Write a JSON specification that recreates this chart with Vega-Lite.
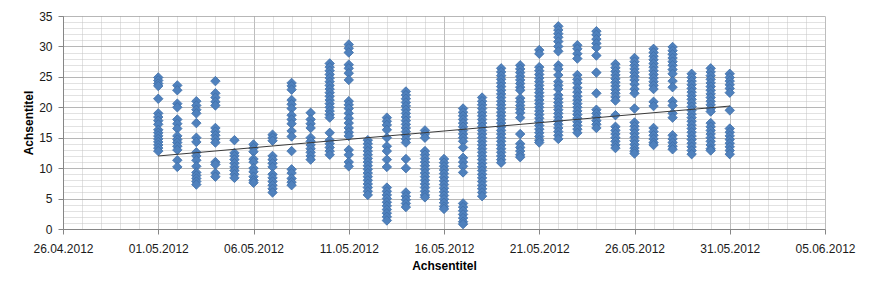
{
"$schema": "https://vega.github.io/schema/vega-lite/v6.json",
"width": 762, "height": 213,
"autosize": {"type": "none"},
"padding": {"left": 63, "top": 16, "right": 46, "bottom": 62},
"background": "#ffffff",
"config": {"view": {"stroke": null}, "font": "Liberation Sans"},
"datasets": {"trend": [{"date": "2012-05-01", "value": 12.0}, {"date": "2012-05-31", "value": 20.2}]},
"data": {"values": [
{"date":"2012-05-01","value":24.9},{"date":"2012-05-01","value":24.4},{"date":"2012-05-01","value":23.9},{"date":"2012-05-01","value":23.5},{"date":"2012-05-01","value":21.4},{"date":"2012-05-01","value":19.0},{"date":"2012-05-01","value":18.4},{"date":"2012-05-01","value":17.8},{"date":"2012-05-01","value":17.2},{"date":"2012-05-01","value":16.3},{"date":"2012-05-01","value":15.8},{"date":"2012-05-01","value":15.3},{"date":"2012-05-01","value":14.8},{"date":"2012-05-01","value":14.3},{"date":"2012-05-01","value":13.8},{"date":"2012-05-01","value":13.3},{"date":"2012-05-01","value":12.8},
{"date":"2012-05-02","value":23.6},{"date":"2012-05-02","value":22.8},{"date":"2012-05-02","value":20.6},{"date":"2012-05-02","value":20.0},{"date":"2012-05-02","value":18.0},{"date":"2012-05-02","value":17.3},{"date":"2012-05-02","value":16.5},{"date":"2012-05-02","value":15.3},{"date":"2012-05-02","value":14.7},{"date":"2012-05-02","value":14.2},{"date":"2012-05-02","value":13.6},{"date":"2012-05-02","value":13.0},{"date":"2012-05-02","value":11.3},{"date":"2012-05-02","value":10.2},
{"date":"2012-05-03","value":21.0},{"date":"2012-05-03","value":20.3},{"date":"2012-05-03","value":19.6},{"date":"2012-05-03","value":19.0},{"date":"2012-05-03","value":17.4},{"date":"2012-05-03","value":15.0},{"date":"2012-05-03","value":14.3},{"date":"2012-05-03","value":12.6},{"date":"2012-05-03","value":12.0},{"date":"2012-05-03","value":11.3},{"date":"2012-05-03","value":10.3},{"date":"2012-05-03","value":9.3},{"date":"2012-05-03","value":8.8},{"date":"2012-05-03","value":8.3},{"date":"2012-05-03","value":7.8},{"date":"2012-05-03","value":7.3},
{"date":"2012-05-04","value":24.3},{"date":"2012-05-04","value":22.3},{"date":"2012-05-04","value":21.6},{"date":"2012-05-04","value":20.9},{"date":"2012-05-04","value":20.3},{"date":"2012-05-04","value":16.6},{"date":"2012-05-04","value":16.0},{"date":"2012-05-04","value":15.4},{"date":"2012-05-04","value":14.8},{"date":"2012-05-04","value":14.2},{"date":"2012-05-04","value":11.0},{"date":"2012-05-04","value":10.6},{"date":"2012-05-04","value":9.2},{"date":"2012-05-04","value":8.6},
{"date":"2012-05-05","value":14.6},{"date":"2012-05-05","value":12.5},{"date":"2012-05-05","value":12.0},{"date":"2012-05-05","value":11.4},{"date":"2012-05-05","value":10.8},{"date":"2012-05-05","value":10.2},{"date":"2012-05-05","value":9.6},{"date":"2012-05-05","value":9.0},{"date":"2012-05-05","value":8.4},
{"date":"2012-05-06","value":13.9},{"date":"2012-05-06","value":13.3},{"date":"2012-05-06","value":12.7},{"date":"2012-05-06","value":11.5},{"date":"2012-05-06","value":11.0},{"date":"2012-05-06","value":10.0},{"date":"2012-05-06","value":9.4},{"date":"2012-05-06","value":8.6},{"date":"2012-05-06","value":8.0},{"date":"2012-05-06","value":7.6},
{"date":"2012-05-07","value":15.5},{"date":"2012-05-07","value":15.0},{"date":"2012-05-07","value":14.5},{"date":"2012-05-07","value":12.0},{"date":"2012-05-07","value":11.4},{"date":"2012-05-07","value":10.8},{"date":"2012-05-07","value":10.2},{"date":"2012-05-07","value":9.0},{"date":"2012-05-07","value":8.4},{"date":"2012-05-07","value":7.8},{"date":"2012-05-07","value":7.2},{"date":"2012-05-07","value":6.6},{"date":"2012-05-07","value":6.0},
{"date":"2012-05-08","value":24.0},{"date":"2012-05-08","value":23.5},{"date":"2012-05-08","value":22.9},{"date":"2012-05-08","value":21.2},{"date":"2012-05-08","value":20.5},{"date":"2012-05-08","value":19.8},{"date":"2012-05-08","value":18.7},{"date":"2012-05-08","value":18.0},{"date":"2012-05-08","value":17.3},{"date":"2012-05-08","value":16.1},{"date":"2012-05-08","value":15.2},{"date":"2012-05-08","value":12.8},{"date":"2012-05-08","value":9.8},{"date":"2012-05-08","value":9.2},{"date":"2012-05-08","value":8.3},{"date":"2012-05-08","value":7.7},{"date":"2012-05-08","value":7.2},
{"date":"2012-05-09","value":19.1},{"date":"2012-05-09","value":18.0},{"date":"2012-05-09","value":17.3},{"date":"2012-05-09","value":16.6},{"date":"2012-05-09","value":15.0},{"date":"2012-05-09","value":14.4},{"date":"2012-05-09","value":13.8},{"date":"2012-05-09","value":13.2},{"date":"2012-05-09","value":12.6},{"date":"2012-05-09","value":12.0},{"date":"2012-05-09","value":11.4},
{"date":"2012-05-10","value":27.2},{"date":"2012-05-10","value":26.6},{"date":"2012-05-10","value":26.0},{"date":"2012-05-10","value":25.4},{"date":"2012-05-10","value":24.8},{"date":"2012-05-10","value":24.2},{"date":"2012-05-10","value":23.6},{"date":"2012-05-10","value":23.0},{"date":"2012-05-10","value":22.4},{"date":"2012-05-10","value":21.8},{"date":"2012-05-10","value":21.2},{"date":"2012-05-10","value":20.6},{"date":"2012-05-10","value":20.0},{"date":"2012-05-10","value":19.4},{"date":"2012-05-10","value":18.8},{"date":"2012-05-10","value":18.3},{"date":"2012-05-10","value":15.8},{"date":"2012-05-10","value":14.6},{"date":"2012-05-10","value":14.0},{"date":"2012-05-10","value":13.4},{"date":"2012-05-10","value":12.8},{"date":"2012-05-10","value":12.2},
{"date":"2012-05-11","value":30.3},{"date":"2012-05-11","value":29.7},{"date":"2012-05-11","value":29.0},{"date":"2012-05-11","value":27.0},{"date":"2012-05-11","value":26.4},{"date":"2012-05-11","value":25.6},{"date":"2012-05-11","value":24.5},{"date":"2012-05-11","value":21.0},{"date":"2012-05-11","value":20.4},{"date":"2012-05-11","value":19.8},{"date":"2012-05-11","value":19.0},{"date":"2012-05-11","value":18.2},{"date":"2012-05-11","value":17.4},{"date":"2012-05-11","value":16.6},{"date":"2012-05-11","value":15.9},{"date":"2012-05-11","value":15.3},{"date":"2012-05-11","value":13.0},{"date":"2012-05-11","value":12.2},{"date":"2012-05-11","value":11.0},{"date":"2012-05-11","value":10.3},
{"date":"2012-05-12","value":14.6},{"date":"2012-05-12","value":14.0},{"date":"2012-05-12","value":13.4},{"date":"2012-05-12","value":12.8},{"date":"2012-05-12","value":12.2},{"date":"2012-05-12","value":11.6},{"date":"2012-05-12","value":11.0},{"date":"2012-05-12","value":10.4},{"date":"2012-05-12","value":9.8},{"date":"2012-05-12","value":9.2},{"date":"2012-05-12","value":8.6},{"date":"2012-05-12","value":8.0},{"date":"2012-05-12","value":7.4},{"date":"2012-05-12","value":6.8},{"date":"2012-05-12","value":6.2},{"date":"2012-05-12","value":5.6},
{"date":"2012-05-13","value":18.3},{"date":"2012-05-13","value":17.7},{"date":"2012-05-13","value":17.1},{"date":"2012-05-13","value":16.3},{"date":"2012-05-13","value":15.0},{"date":"2012-05-13","value":13.6},{"date":"2012-05-13","value":12.8},{"date":"2012-05-13","value":11.4},{"date":"2012-05-13","value":10.2},{"date":"2012-05-13","value":6.8},{"date":"2012-05-13","value":6.2},{"date":"2012-05-13","value":5.6},{"date":"2012-05-13","value":5.0},{"date":"2012-05-13","value":4.4},{"date":"2012-05-13","value":3.8},{"date":"2012-05-13","value":3.2},{"date":"2012-05-13","value":2.6},{"date":"2012-05-13","value":2.0},{"date":"2012-05-13","value":1.4},
{"date":"2012-05-14","value":22.6},{"date":"2012-05-14","value":22.0},{"date":"2012-05-14","value":21.4},{"date":"2012-05-14","value":20.8},{"date":"2012-05-14","value":20.2},{"date":"2012-05-14","value":19.6},{"date":"2012-05-14","value":19.0},{"date":"2012-05-14","value":18.4},{"date":"2012-05-14","value":17.8},{"date":"2012-05-14","value":17.2},{"date":"2012-05-14","value":16.6},{"date":"2012-05-14","value":16.0},{"date":"2012-05-14","value":15.4},{"date":"2012-05-14","value":14.8},{"date":"2012-05-14","value":14.2},{"date":"2012-05-14","value":11.5},{"date":"2012-05-14","value":10.0},{"date":"2012-05-14","value":6.0},{"date":"2012-05-14","value":5.4},{"date":"2012-05-14","value":4.8},{"date":"2012-05-14","value":4.2},{"date":"2012-05-14","value":3.6},
{"date":"2012-05-15","value":16.2},{"date":"2012-05-15","value":15.6},{"date":"2012-05-15","value":15.0},{"date":"2012-05-15","value":12.8},{"date":"2012-05-15","value":12.2},{"date":"2012-05-15","value":11.6},{"date":"2012-05-15","value":11.0},{"date":"2012-05-15","value":10.4},{"date":"2012-05-15","value":9.8},{"date":"2012-05-15","value":9.2},{"date":"2012-05-15","value":8.6},{"date":"2012-05-15","value":8.0},{"date":"2012-05-15","value":7.4},{"date":"2012-05-15","value":6.8},{"date":"2012-05-15","value":6.2},{"date":"2012-05-15","value":5.6},{"date":"2012-05-15","value":5.2},
{"date":"2012-05-16","value":11.5},{"date":"2012-05-16","value":10.9},{"date":"2012-05-16","value":10.3},{"date":"2012-05-16","value":9.7},{"date":"2012-05-16","value":9.1},{"date":"2012-05-16","value":8.5},{"date":"2012-05-16","value":7.9},{"date":"2012-05-16","value":7.3},{"date":"2012-05-16","value":6.7},{"date":"2012-05-16","value":6.1},{"date":"2012-05-16","value":5.5},{"date":"2012-05-16","value":4.9},{"date":"2012-05-16","value":4.3},{"date":"2012-05-16","value":3.7},{"date":"2012-05-16","value":3.3},
{"date":"2012-05-17","value":19.8},{"date":"2012-05-17","value":19.2},{"date":"2012-05-17","value":18.6},{"date":"2012-05-17","value":18.0},{"date":"2012-05-17","value":17.4},{"date":"2012-05-17","value":16.8},{"date":"2012-05-17","value":16.2},{"date":"2012-05-17","value":15.6},{"date":"2012-05-17","value":15.0},{"date":"2012-05-17","value":14.4},{"date":"2012-05-17","value":13.4},{"date":"2012-05-17","value":11.7},{"date":"2012-05-17","value":11.0},{"date":"2012-05-17","value":10.3},{"date":"2012-05-17","value":9.3},{"date":"2012-05-17","value":4.2},{"date":"2012-05-17","value":3.6},{"date":"2012-05-17","value":3.0},{"date":"2012-05-17","value":2.4},{"date":"2012-05-17","value":1.8},{"date":"2012-05-17","value":1.2},{"date":"2012-05-17","value":0.8},
{"date":"2012-05-18","value":21.6},{"date":"2012-05-18","value":21.0},{"date":"2012-05-18","value":20.4},{"date":"2012-05-18","value":19.8},{"date":"2012-05-18","value":19.2},{"date":"2012-05-18","value":18.6},{"date":"2012-05-18","value":18.0},{"date":"2012-05-18","value":17.4},{"date":"2012-05-18","value":16.8},{"date":"2012-05-18","value":16.2},{"date":"2012-05-18","value":15.6},{"date":"2012-05-18","value":15.0},{"date":"2012-05-18","value":14.4},{"date":"2012-05-18","value":13.8},{"date":"2012-05-18","value":13.2},{"date":"2012-05-18","value":12.6},{"date":"2012-05-18","value":12.0},{"date":"2012-05-18","value":11.4},{"date":"2012-05-18","value":10.8},{"date":"2012-05-18","value":10.2},{"date":"2012-05-18","value":9.6},{"date":"2012-05-18","value":9.0},{"date":"2012-05-18","value":8.4},{"date":"2012-05-18","value":7.8},{"date":"2012-05-18","value":7.2},{"date":"2012-05-18","value":6.6},{"date":"2012-05-18","value":6.0},{"date":"2012-05-18","value":5.4},
{"date":"2012-05-19","value":26.4},{"date":"2012-05-19","value":25.8},{"date":"2012-05-19","value":25.2},{"date":"2012-05-19","value":24.6},{"date":"2012-05-19","value":24.0},{"date":"2012-05-19","value":23.4},{"date":"2012-05-19","value":22.8},{"date":"2012-05-19","value":22.2},{"date":"2012-05-19","value":21.6},{"date":"2012-05-19","value":21.0},{"date":"2012-05-19","value":20.4},{"date":"2012-05-19","value":19.8},{"date":"2012-05-19","value":19.2},{"date":"2012-05-19","value":18.6},{"date":"2012-05-19","value":18.0},{"date":"2012-05-19","value":17.4},{"date":"2012-05-19","value":16.8},{"date":"2012-05-19","value":16.2},{"date":"2012-05-19","value":15.6},{"date":"2012-05-19","value":15.0},{"date":"2012-05-19","value":14.4},{"date":"2012-05-19","value":13.8},{"date":"2012-05-19","value":13.2},{"date":"2012-05-19","value":12.6},{"date":"2012-05-19","value":12.0},{"date":"2012-05-19","value":11.4},{"date":"2012-05-19","value":10.9},
{"date":"2012-05-20","value":26.9},{"date":"2012-05-20","value":26.3},{"date":"2012-05-20","value":25.7},{"date":"2012-05-20","value":25.1},{"date":"2012-05-20","value":24.5},{"date":"2012-05-20","value":23.9},{"date":"2012-05-20","value":23.3},{"date":"2012-05-20","value":22.8},{"date":"2012-05-20","value":21.5},{"date":"2012-05-20","value":20.9},{"date":"2012-05-20","value":20.3},{"date":"2012-05-20","value":19.7},{"date":"2012-05-20","value":19.1},{"date":"2012-05-20","value":18.3},{"date":"2012-05-20","value":15.6},{"date":"2012-05-20","value":14.0},{"date":"2012-05-20","value":13.4},{"date":"2012-05-20","value":12.8},{"date":"2012-05-20","value":12.2},{"date":"2012-05-20","value":11.8},
{"date":"2012-05-21","value":29.4},{"date":"2012-05-21","value":28.8},{"date":"2012-05-21","value":26.6},{"date":"2012-05-21","value":26.0},{"date":"2012-05-21","value":25.4},{"date":"2012-05-21","value":24.8},{"date":"2012-05-21","value":24.2},{"date":"2012-05-21","value":23.6},{"date":"2012-05-21","value":23.0},{"date":"2012-05-21","value":22.4},{"date":"2012-05-21","value":21.8},{"date":"2012-05-21","value":21.2},{"date":"2012-05-21","value":20.6},{"date":"2012-05-21","value":20.0},{"date":"2012-05-21","value":19.4},{"date":"2012-05-21","value":18.8},{"date":"2012-05-21","value":18.2},{"date":"2012-05-21","value":17.6},{"date":"2012-05-21","value":17.0},{"date":"2012-05-21","value":16.4},{"date":"2012-05-21","value":15.8},{"date":"2012-05-21","value":15.2},{"date":"2012-05-21","value":14.6},{"date":"2012-05-21","value":14.2},
{"date":"2012-05-22","value":33.3},{"date":"2012-05-22","value":32.7},{"date":"2012-05-22","value":32.1},{"date":"2012-05-22","value":31.5},{"date":"2012-05-22","value":30.8},{"date":"2012-05-22","value":30.0},{"date":"2012-05-22","value":29.2},{"date":"2012-05-22","value":26.9},{"date":"2012-05-22","value":26.3},{"date":"2012-05-22","value":25.3},{"date":"2012-05-22","value":24.2},{"date":"2012-05-22","value":23.6},{"date":"2012-05-22","value":23.0},{"date":"2012-05-22","value":22.0},{"date":"2012-05-22","value":21.4},{"date":"2012-05-22","value":20.8},{"date":"2012-05-22","value":20.2},{"date":"2012-05-22","value":19.6},{"date":"2012-05-22","value":19.0},{"date":"2012-05-22","value":18.4},{"date":"2012-05-22","value":17.8},{"date":"2012-05-22","value":17.2},{"date":"2012-05-22","value":16.6},{"date":"2012-05-22","value":16.0},{"date":"2012-05-22","value":15.4},{"date":"2012-05-22","value":14.8},
{"date":"2012-05-23","value":30.2},{"date":"2012-05-23","value":29.6},{"date":"2012-05-23","value":28.8},{"date":"2012-05-23","value":28.0},{"date":"2012-05-23","value":25.3},{"date":"2012-05-23","value":24.6},{"date":"2012-05-23","value":24.0},{"date":"2012-05-23","value":23.2},{"date":"2012-05-23","value":22.5},{"date":"2012-05-23","value":21.8},{"date":"2012-05-23","value":21.2},{"date":"2012-05-23","value":20.6},{"date":"2012-05-23","value":20.0},{"date":"2012-05-23","value":19.4},{"date":"2012-05-23","value":18.8},{"date":"2012-05-23","value":18.2},{"date":"2012-05-23","value":17.6},{"date":"2012-05-23","value":17.0},{"date":"2012-05-23","value":16.4},{"date":"2012-05-23","value":15.8},
{"date":"2012-05-24","value":32.5},{"date":"2012-05-24","value":31.9},{"date":"2012-05-24","value":31.2},{"date":"2012-05-24","value":30.5},{"date":"2012-05-24","value":29.8},{"date":"2012-05-24","value":28.5},{"date":"2012-05-24","value":25.7},{"date":"2012-05-24","value":22.3},{"date":"2012-05-24","value":19.6},{"date":"2012-05-24","value":19.0},{"date":"2012-05-24","value":18.4},{"date":"2012-05-24","value":17.8},{"date":"2012-05-24","value":17.2},{"date":"2012-05-24","value":16.6},
{"date":"2012-05-25","value":27.1},{"date":"2012-05-25","value":26.5},{"date":"2012-05-25","value":25.9},{"date":"2012-05-25","value":25.3},{"date":"2012-05-25","value":24.7},{"date":"2012-05-25","value":24.1},{"date":"2012-05-25","value":23.5},{"date":"2012-05-25","value":22.9},{"date":"2012-05-25","value":22.3},{"date":"2012-05-25","value":21.7},{"date":"2012-05-25","value":21.1},{"date":"2012-05-25","value":18.7},{"date":"2012-05-25","value":16.8},{"date":"2012-05-25","value":16.2},{"date":"2012-05-25","value":15.6},{"date":"2012-05-25","value":15.0},{"date":"2012-05-25","value":14.4},{"date":"2012-05-25","value":13.8},{"date":"2012-05-25","value":13.3},
{"date":"2012-05-26","value":28.1},{"date":"2012-05-26","value":27.5},{"date":"2012-05-26","value":26.9},{"date":"2012-05-26","value":26.3},{"date":"2012-05-26","value":25.7},{"date":"2012-05-26","value":25.1},{"date":"2012-05-26","value":24.5},{"date":"2012-05-26","value":23.8},{"date":"2012-05-26","value":23.0},{"date":"2012-05-26","value":22.3},{"date":"2012-05-26","value":19.8},{"date":"2012-05-26","value":17.5},{"date":"2012-05-26","value":16.9},{"date":"2012-05-26","value":16.3},{"date":"2012-05-26","value":15.7},{"date":"2012-05-26","value":15.1},{"date":"2012-05-26","value":14.5},{"date":"2012-05-26","value":13.9},{"date":"2012-05-26","value":13.3},{"date":"2012-05-26","value":12.8},{"date":"2012-05-26","value":12.4},
{"date":"2012-05-27","value":29.6},{"date":"2012-05-27","value":29.0},{"date":"2012-05-27","value":28.4},{"date":"2012-05-27","value":27.8},{"date":"2012-05-27","value":27.2},{"date":"2012-05-27","value":26.6},{"date":"2012-05-27","value":26.0},{"date":"2012-05-27","value":25.4},{"date":"2012-05-27","value":24.8},{"date":"2012-05-27","value":24.2},{"date":"2012-05-27","value":23.6},{"date":"2012-05-27","value":23.0},{"date":"2012-05-27","value":20.9},{"date":"2012-05-27","value":20.2},{"date":"2012-05-27","value":16.6},{"date":"2012-05-27","value":16.0},{"date":"2012-05-27","value":15.4},{"date":"2012-05-27","value":14.8},{"date":"2012-05-27","value":14.2},{"date":"2012-05-27","value":13.8},
{"date":"2012-05-28","value":29.9},{"date":"2012-05-28","value":29.3},{"date":"2012-05-28","value":28.7},{"date":"2012-05-28","value":28.1},{"date":"2012-05-28","value":27.5},{"date":"2012-05-28","value":26.9},{"date":"2012-05-28","value":26.2},{"date":"2012-05-28","value":25.5},{"date":"2012-05-28","value":24.3},{"date":"2012-05-28","value":23.3},{"date":"2012-05-28","value":21.0},{"date":"2012-05-28","value":20.3},{"date":"2012-05-28","value":19.0},{"date":"2012-05-28","value":18.3},{"date":"2012-05-28","value":15.4},{"date":"2012-05-28","value":14.8},{"date":"2012-05-28","value":14.2},{"date":"2012-05-28","value":13.6},{"date":"2012-05-28","value":13.1},
{"date":"2012-05-29","value":25.5},{"date":"2012-05-29","value":24.9},{"date":"2012-05-29","value":24.3},{"date":"2012-05-29","value":23.7},{"date":"2012-05-29","value":23.1},{"date":"2012-05-29","value":22.5},{"date":"2012-05-29","value":21.9},{"date":"2012-05-29","value":21.3},{"date":"2012-05-29","value":20.7},{"date":"2012-05-29","value":20.1},{"date":"2012-05-29","value":19.5},{"date":"2012-05-29","value":18.9},{"date":"2012-05-29","value":18.3},{"date":"2012-05-29","value":17.7},{"date":"2012-05-29","value":17.1},{"date":"2012-05-29","value":16.5},{"date":"2012-05-29","value":15.9},{"date":"2012-05-29","value":15.3},{"date":"2012-05-29","value":14.7},{"date":"2012-05-29","value":14.1},{"date":"2012-05-29","value":13.5},{"date":"2012-05-29","value":12.9},{"date":"2012-05-29","value":12.3},
{"date":"2012-05-30","value":26.4},{"date":"2012-05-30","value":25.8},{"date":"2012-05-30","value":25.2},{"date":"2012-05-30","value":24.6},{"date":"2012-05-30","value":24.0},{"date":"2012-05-30","value":23.4},{"date":"2012-05-30","value":22.8},{"date":"2012-05-30","value":22.2},{"date":"2012-05-30","value":21.6},{"date":"2012-05-30","value":21.0},{"date":"2012-05-30","value":20.4},{"date":"2012-05-30","value":19.8},{"date":"2012-05-30","value":19.3},{"date":"2012-05-30","value":17.4},{"date":"2012-05-30","value":16.8},{"date":"2012-05-30","value":16.2},{"date":"2012-05-30","value":15.6},{"date":"2012-05-30","value":15.0},{"date":"2012-05-30","value":14.4},{"date":"2012-05-30","value":13.8},{"date":"2012-05-30","value":13.2},{"date":"2012-05-30","value":12.9},
{"date":"2012-05-31","value":25.5},{"date":"2012-05-31","value":24.9},{"date":"2012-05-31","value":24.3},{"date":"2012-05-31","value":23.7},{"date":"2012-05-31","value":23.1},{"date":"2012-05-31","value":22.4},{"date":"2012-05-31","value":19.5},{"date":"2012-05-31","value":16.5},{"date":"2012-05-31","value":15.9},{"date":"2012-05-31","value":15.3},{"date":"2012-05-31","value":14.7},{"date":"2012-05-31","value":14.1},{"date":"2012-05-31","value":13.5},{"date":"2012-05-31","value":12.9},{"date":"2012-05-31","value":12.3}
]},
"layer": [
{
"mark": {"type": "point", "shape": "diamond", "filled": true, "size": 90, "color": "#4f81bd", "stroke": "#3f6ea8", "strokeWidth": 0.8, "opacity": 1},
"encoding": {
"x": {"field": "date", "type": "temporal",
"scale": {"type": "utc", "domain": [{"year": 2012, "month": 4, "date": 26, "utc": true}, {"year": 2012, "month": 6, "date": 5, "utc": true}], "nice": false},
"axis": {"orient": "bottom", "tickCount": {"interval": "day", "step": 1}, "grid": true, "gridColor": "#c4c4c4", "gridDash": [1, 1], "gridWidth": 1, "labels": false, "ticks": false, "domain": false, "title": null}},
"y": {"field": "value", "type": "quantitative",
"scale": {"domain": [0, 35], "nice": false, "zero": true},
"axis": {"orient": "left", "values": [0,1,2,3,4,5,6,7,8,9,10,11,12,13,14,15,16,17,18,19,20,21,22,23,24,25,26,27,28,29,30,31,32,33,34,35], "grid": true, "gridColor": "#c4c4c4", "gridDash": [1, 1], "gridWidth": 1, "labels": false, "ticks": false, "domain": false, "title": null}}
}
},
{
"data": {"name": "trend"},
"mark": {"type": "line", "color": "#3a3a3a", "strokeWidth": 1},
"encoding": {
"x": {"field": "date", "type": "temporal",
"axis": {"orient": "bottom", "values": [
{"year": 2012, "month": 4, "date": 26, "utc": true},
{"year": 2012, "month": 5, "date": 1, "utc": true},
{"year": 2012, "month": 5, "date": 6, "utc": true},
{"year": 2012, "month": 5, "date": 11, "utc": true},
{"year": 2012, "month": 5, "date": 16, "utc": true},
{"year": 2012, "month": 5, "date": 21, "utc": true},
{"year": 2012, "month": 5, "date": 26, "utc": true},
{"year": 2012, "month": 5, "date": 31, "utc": true},
{"year": 2012, "month": 6, "date": 5, "utc": true}],
"format": "%d.%m.%Y", "grid": true, "gridColor": "#bdbdbd", "gridWidth": 1,
"domain": true, "domainColor": "#868686", "domainWidth": 1,
"ticks": true, "tickColor": "#868686", "tickSize": 5,
"labelFont": "Liberation Sans", "labelFontSize": 12, "labelColor": "#1a1a1a", "labelPadding": 9, "labelFlush": false, "labelOverlap": false,
"title": "Achsentitel", "titleFont": "Liberation Sans", "titleFontSize": 12, "titleFontWeight": "bold", "titleColor": "#000000", "titlePadding": 6}},
"y": {"field": "value", "type": "quantitative",
"axis": {"orient": "left", "values": [0, 5, 10, 15, 20, 25, 30, 35],
"grid": true, "gridColor": "#8c8c8c", "gridDash": [1, 1], "gridWidth": 1,
"domain": true, "domainColor": "#868686", "domainWidth": 1,
"ticks": true, "tickColor": "#868686", "tickSize": 5,
"labelFont": "Liberation Sans", "labelFontSize": 12, "labelColor": "#1a1a1a", "labelPadding": 6,
"title": "Achsentitel", "titleFont": "Liberation Sans", "titleFontSize": 12, "titleFontWeight": "bold", "titleColor": "#000000", "titlePadding": 3}}
}
}
],
"resolve": {"axis": {"x": "independent", "y": "independent"}}
}
